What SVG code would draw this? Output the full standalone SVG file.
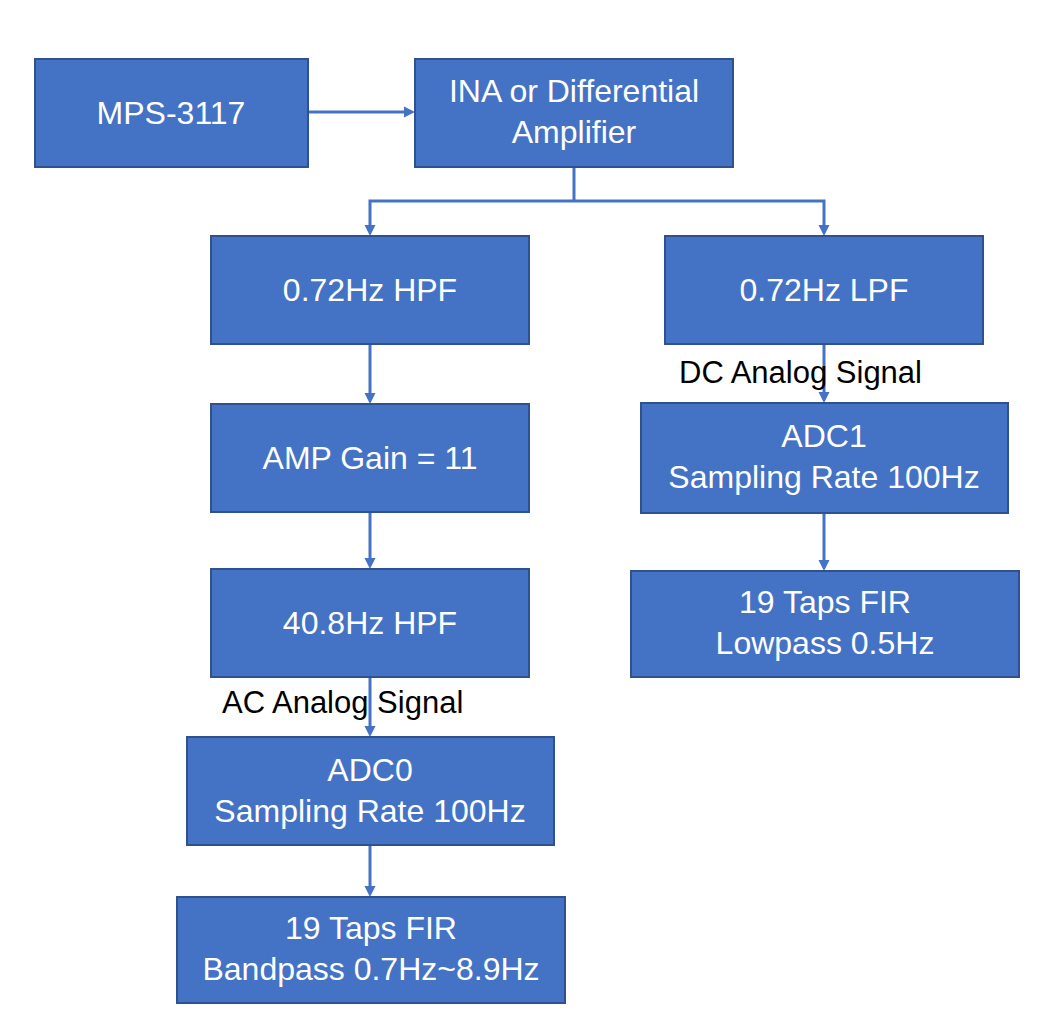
<svg xmlns="http://www.w3.org/2000/svg" width="1052" height="1020" viewBox="0 0 1052 1020">
<style>
.box{fill:#4472C4;stroke:#2F528F;stroke-width:2}
.t{font-family:"Liberation Sans",Arial,sans-serif;font-size:32px;fill:#ffffff;text-anchor:middle}
.lbl{font-family:"Liberation Sans",Arial,sans-serif;font-size:31px;fill:#000000}
.c{fill:none;stroke:#4472C4;stroke-width:3;marker-end:url(#ah)}
.c0{fill:none;stroke:#4472C4;stroke-width:3}
</style>
<defs>
<marker id="ah" markerUnits="userSpaceOnUse" markerWidth="12" markerHeight="12" refX="3" refY="6" orient="auto" viewBox="0 0 12 12">
<path d="M0,0.5 L11,6 L0,11.5 z" fill="#4472C4"/>
</marker>
</defs>
<rect width="1052" height="1020" fill="#ffffff"/>
<g id="connectors">
<line class="c" x1="308" y1="112" x2="407" y2="112"/>
<polyline class="c0" points="574,167 574,201"/>
<polyline class="c" points="574,201 370,201 370,228"/>
<polyline class="c" points="574,201 824,201 824,228"/>
<line class="c" x1="370" y1="344" x2="370" y2="396"/>
<line class="c" x1="370" y1="512" x2="370" y2="561"/>
<line class="c" x1="370" y1="677" x2="370" y2="729"/>
<line class="c" x1="370" y1="845" x2="370" y2="889"/>
<line class="c" x1="824" y1="344" x2="824" y2="395"/>
<line class="c" x1="824" y1="513" x2="824" y2="563"/>
</g>
<g id="n-mps"><rect class="box" x="35" y="59" width="273" height="108"/><text class="t" x="171" y="124">MPS-3117</text></g>
<g id="n-ina"><rect class="box" x="415" y="59" width="318" height="108"/><text class="t" x="574" y="102">INA or Differential</text><text class="t" x="574" y="143">Amplifier</text></g>
<g id="n-hpf1"><rect class="box" x="211" y="236" width="318" height="108"/><text class="t" x="370" y="301">0.72Hz HPF</text></g>
<g id="n-lpf"><rect class="box" x="665" y="236" width="318" height="108"/><text class="t" x="824" y="301">0.72Hz LPF</text></g>
<g id="n-amp"><rect class="box" x="211" y="404" width="318" height="108"/><text class="t" x="370" y="469">AMP Gain = 11</text></g>
<g id="n-hpf2"><rect class="box" x="211" y="569" width="318" height="108"/><text class="t" x="370" y="634">40.8Hz HPF</text></g>
<g id="n-adc0"><rect class="box" x="187" y="737" width="367" height="108"/><text class="t" x="370" y="781">ADC0</text><text class="t" x="370" y="822">Sampling Rate 100Hz</text></g>
<g id="n-firbp"><rect class="box" x="177" y="897" width="388" height="106"/><text class="t" x="371" y="939">19 Taps FIR</text><text class="t" x="371" y="980">Bandpass 0.7Hz~8.9Hz</text></g>
<g id="n-adc1"><rect class="box" x="641" y="403" width="367" height="110"/><text class="t" x="824" y="447">ADC1</text><text class="t" x="824" y="488">Sampling Rate 100Hz</text></g>
<g id="n-firlp"><rect class="box" x="631" y="571" width="388" height="106"/><text class="t" x="825" y="613">19 Taps FIR</text><text class="t" x="825" y="654">Lowpass 0.5Hz</text></g>
<g id="labels">
<text class="lbl" x="679" y="383">DC Analog Signal</text>
<text class="lbl" x="222" y="713">AC Analog Signal</text>
</g>
</svg>
